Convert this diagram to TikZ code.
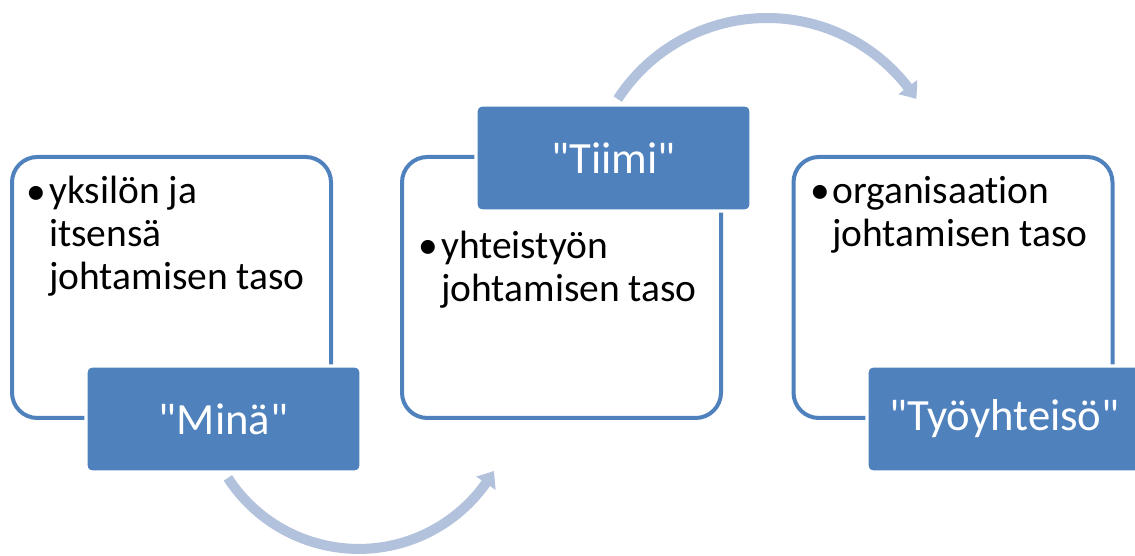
\documentclass[tikz,border=0pt]{standalone}
\usepackage{fontspec}
\setmainfont{Carlito}[Ligatures={TeX,NoCommon}]
\newfontfamily\lblfont{Carlito}[Ligatures={NoCommon}]
\usetikzlibrary{arrows.meta,bending}
\definecolor{boxblue}{RGB}{79,129,189}
\definecolor{arrowblue}{RGB}{178,194,220}
\newdimen\pxu \pxu=0.75pt
\begin{document}
\begin{tikzpicture}[x=0.75pt,y=0.75pt,
  outline/.style={draw=boxblue, line width=3pt, rounded corners=19pt, fill=white,
    minimum width=319\pxu, minimum height=261\pxu, inner sep=0pt},
  label/.style={draw=white, line width=2.5pt, fill=boxblue, rounded corners=4.5pt,
    minimum width=275\pxu, minimum height=106\pxu, inner sep=0pt,
    text=white, font=\lblfont\fontsize{33.5pt}{38pt}\selectfont},
  bul/.style={anchor=base west, inner sep=0pt, font=\fontsize{29.6pt}{32.5pt}\selectfont},
  body/.style={anchor=base west, inner sep=0pt, align=left, font=\fontsize{29.6pt}{32.5pt}\selectfont},
  flow/.style={draw=arrowblue, line width=7.5pt, -{Triangle[width=17pt,length=11pt,bend]}}]
\useasboundingbox (0,0) rectangle (1135,556);
% boxes
\node[outline] (o1) at (171.5,268.5) {};
\node[outline] (o2) at (561.5,268.5) {};
\node[outline] (o3) at (953,268.5) {};
\node[label] (b1) at (223.5,137) {"Minä"};
\node[label] (b2) at (613.5,398) {"Tiimi"};
\node[label] (b3) at (1004.5,137) {"Työyhteisö"};
% texts (base anchor = last line)
\node[bul] (u1) at (26,351) {•};
\node[body] (t1) at (49,266) {yksilön ja\\itsensä\\johtamisen taso};
\node[bul] (u2) at (418,297) {•};
\node[body] (t2) at (441,254) {yhteistyön\\johtamisen taso};
\node[bul] (u3) at (810,352) {•};
\node[body] (t3) at (832,309) {organisaation\\johtamisen taso};
% arrows
\coordinate (c1) at (357,162);
\coordinate (c2) at (767,360);
\draw[flow] ([shift={(213:154)}]c1) arc[start angle=213, end angle=330, radius=156];
\draw[flow] ([shift={(147:178)}]c2) arc[start angle=147, end angle=33, radius=178];
\end{tikzpicture}
\end{document}
